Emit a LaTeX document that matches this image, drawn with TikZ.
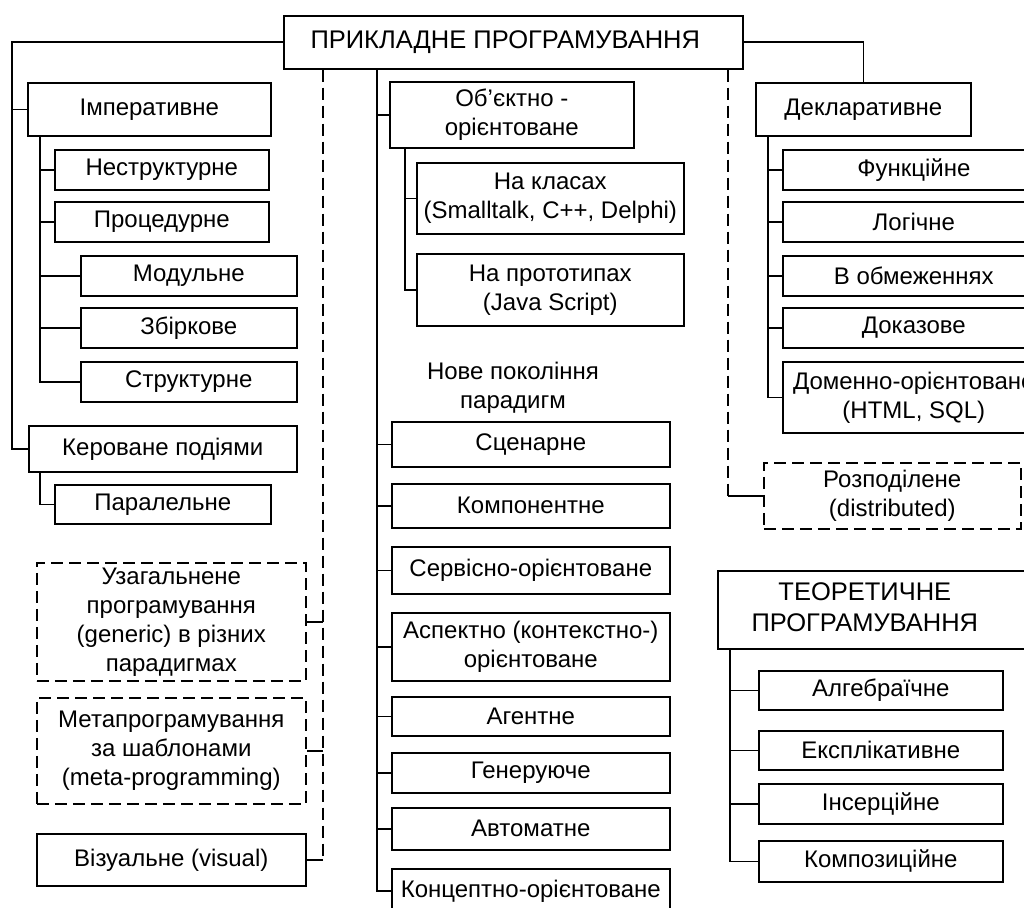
\documentclass[tikz,border=0pt]{standalone}
\usepackage{fontspec}
\setmainfont{Liberation Sans}
\usepackage{tikz}
\usetikzlibrary{positioning, calc}

\begin{document}
\begin{tikzpicture}[
    x=1pt, y=-1pt,
    box/.style={rectangle, draw, line width=1.6pt, anchor=north west, align=center, inner sep=0pt, font=\fontsize{24}{29}\selectfont},
    dbox/.style={box, dash pattern=on 12pt off 6pt},
    head/.style={box, font=\fontsize{25.5}{31}\selectfont},
    line/.style={draw, line width=1.6pt},
    dline/.style={line, dash pattern=on 12pt off 6pt}
]
\useasboundingbox (0,0) rectangle (1024,907);
\clip (0,0) rectangle (1024,907);

% Nodes
\node[head, minimum width=459pt, minimum height=53pt] (top) at (283,15) {ПРИКЛАДНЕ ПРОГРАМУВАННЯ\hspace*{16pt}};

\node[box, minimum width=243pt, minimum height=53pt] (imper) at (27,82) {Імперативне};
\node[box, minimum width=214pt, minimum height=40pt] (nestr) at (54,149) {Неструктурне};
\node[box, minimum width=214pt, minimum height=40pt] (proc) at (54,201) {Процедурне};
\node[box, minimum width=216pt, minimum height=40pt] (modul) at (80,255) {Модульне};
\node[box, minimum width=216pt, minimum height=40pt] (zbirk) at (80,307) {Збіркове};
\node[box, minimum width=216pt, minimum height=40pt] (strukt) at (80,361) {Структурне};
\node[box, minimum width=268pt, minimum height=46pt] (kerov) at (28,425) {Кероване подіями};
\node[box, minimum width=216pt, minimum height=39pt] (paral) at (54,484) {Паралельне};
\node[dbox, minimum width=269pt, minimum height=118pt] (uzag) at (36,562) {Узагальнене\\програмування\\(generic) в різних\\парадигмах};
\node[dbox, minimum width=269pt, minimum height=106pt] (meta) at (36,697) {Метапрограмування\\за шаблонами\\(meta-programming)};
\node[box, minimum width=269pt, minimum height=52pt] (visual) at (36,833) {Візуальне (visual)};

\node[box, minimum width=244pt, minimum height=66pt] (oop) at (389,81) {Об’єктно -\\орієнтоване};
\node[box, minimum width=267pt, minimum height=71pt] (classes) at (416,162) {На класах\\(Smalltalk, C++, Delphi)};
\node[box, minimum width=267pt, minimum height=72pt] (proto) at (416,253) {На прототипах\\(Java Script)};
\node[align=center, font=\fontsize{24}{29}\selectfont] (newgen) at (513,388) {Нове покоління\\парадигм};
\node[box, minimum width=278pt, minimum height=45pt] (scen) at (391,421) {Сценарне};
\node[box, minimum width=278pt, minimum height=44pt] (komp) at (391,483) {Компонентне};
\node[box, minimum width=278pt, minimum height=47pt] (serv) at (391,546) {Сервісно-орієнтоване};
\node[box, minimum width=278pt, minimum height=68pt] (aspect) at (391,612) {Аспектно (контекстно-)\\орієнтоване};
\node[box, minimum width=278pt, minimum height=39pt] (agent) at (391,696) {Агентне};
\node[box, minimum width=278pt, minimum height=40pt] (gener) at (391,752) {Генеруюче};
\node[box, minimum width=278pt, minimum height=42pt] (avtom) at (391,807) {Автоматне};
\node[box, minimum width=278pt, minimum height=44pt] (koncept) at (391,868) {Концептно-орієнтоване};

\node[box, minimum width=215pt, minimum height=53pt] (decl) at (755,82) {Декларативне};
\node[box, minimum width=262pt, minimum height=40pt] (func) at (782,149) {Функційне};
\node[box, minimum width=262pt, minimum height=40pt] (logic) at (782,201) {Логічне};
\node[box, minimum width=262pt, minimum height=40pt] (obmezh) at (782,255) {В обмеженнях};
\node[box, minimum width=262pt, minimum height=40pt] (dokaz) at (782,307) {Доказове};
\node[box, minimum width=262pt, minimum height=71pt] (domen) at (782,361) {Доменно-орієнтоване\\(HTML, SQL)};
\node[dbox, minimum width=257pt, minimum height=66pt] (rozpod) at (763,462) {Розподілене\\(distributed)};

\node[head, minimum width=323pt, minimum height=78pt] (theor) at (717,570) {\begin{tabular}{@{}c@{}}ТЕОРЕТИЧНЕ\\ПРОГРАМУВАННЯ\end{tabular}\hspace*{29pt}};
\node[box, minimum width=244pt, minimum height=39pt] (alg) at (758,670) {Алгебраїчне};
\node[box, minimum width=244pt, minimum height=39pt] (expl) at (758,730) {Експлікативне};
\node[box, minimum width=244pt, minimum height=40pt] (inser) at (758,783) {Інсерційне};
\node[box, minimum width=244pt, minimum height=41pt] (kompoz) at (758,840) {Композиційне};

% Trunks
\coordinate (ltrunk) at (12,0);
\coordinate (itrunk) at (40,0);
\coordinate (dtrunk) at (323,0);
\coordinate (mtrunk) at (377,0);
\coordinate (otrunk) at (405,0);
\coordinate (rtrunk) at (728,0);
\coordinate (ttrunk) at (730,0);
\coordinate (ctrunk) at (768,0);

% Paths
\path[line] (top.west) -| (ltrunk |- kerov.west) -- (kerov.west);
\path[line] (ltrunk |- imper.west) -- (imper.west);
\path[line] (itrunk |- imper.south) |- (strukt.west);
\foreach \n in {nestr, proc, modul, zbirk}
    \path[line] (itrunk |- \n.west) -- (\n.west);
\path[line] (itrunk |- kerov.south) |- (paral.west);

\path[dline] (dtrunk |- top.south) -- (dtrunk |- visual.east);
\path[line] (dtrunk |- visual.east) -- (visual.east);
\path[line] (dtrunk |- uzag.east) -- (uzag.east);
\path[line] (dtrunk |- meta.east) -- (meta.east);

\path[line] (mtrunk |- top.south) |- (koncept.west);
\foreach \n in {oop, scen, komp, serv, aspect, agent, gener, avtom}
    \path[line] (mtrunk |- \n.west) -- (\n.west);
\path[line] (otrunk |- oop.south) |- (proto.west);
\path[line] (otrunk |- classes.west) -- (classes.west);

\path[line] (top.east) -| (decl.north);
\path[line] (ctrunk |- decl.south) |- (domen.west);
\foreach \n in {func, logic, obmezh, dokaz}
    \path[line] (ctrunk |- \n.west) -- (\n.west);

\path[dline] (rtrunk |- top.south) -- (rtrunk |- rozpod.west);
\path[line] (rtrunk |- rozpod.west) -- (rozpod.west);

\path[line] (ttrunk |- theor.south) |- (kompoz.west);
\foreach \n in {alg, expl, inser}
    \path[line] (ttrunk |- \n.west) -- (\n.west);

\end{tikzpicture}
\end{document}
